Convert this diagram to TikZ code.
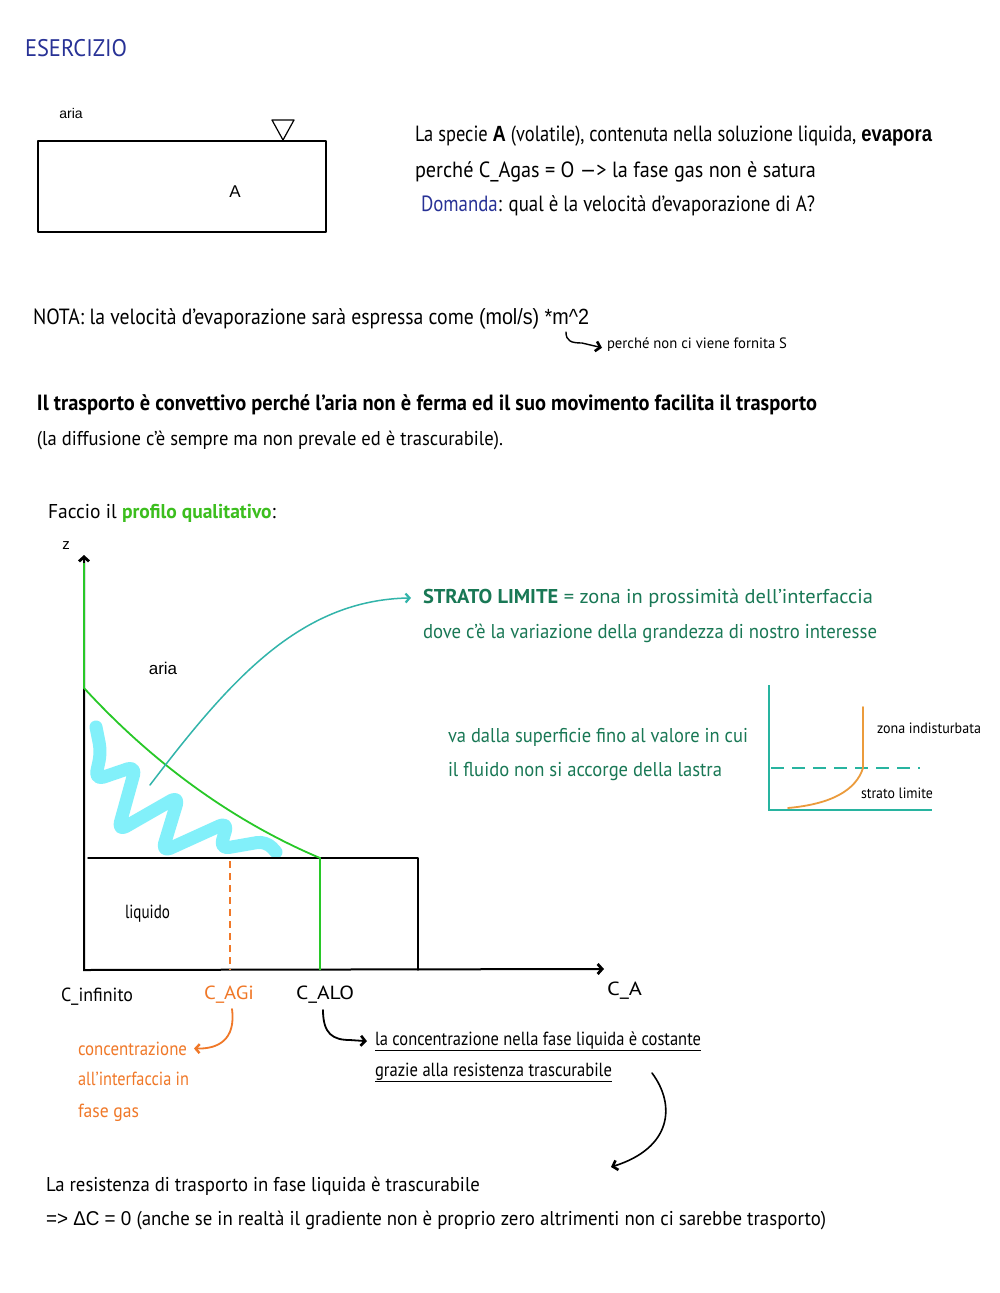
\documentclass[tikz,border=0pt]{standalone}
\usepackage{fontspec}
\usepackage{graphicx}
\setmainfont{Liberation Sans}
\newfontfamily\hand{PT Sans}
\newfontfamily\plain{Liberation Sans}
\usetikzlibrary{arrows.meta}
\definecolor{hblue}{RGB}{40,50,150}
\definecolor{sgreen}{RGB}{25,120,85}
\definecolor{pgreen}{RGB}{60,190,30}
\definecolor{cgreen}{RGB}{40,200,40}
\definecolor{tealc}{RGB}{50,180,170}
\definecolor{cyanw}{RGB}{130,240,250}
\definecolor{orangec}{RGB}{240,120,40}
\definecolor{orangep}{RGB}{235,155,60}
\definecolor{axteal}{RGB}{40,180,160}
\newcommand{\fitw}[2]{\resizebox{#1pt}{\height}{#2}}
\begin{document}
\begin{tikzpicture}[x=1pt,y=-1pt,
  txt/.style={anchor=mid west, inner sep=0pt, outer sep=0pt, yshift=-4.5pt, font=\hand\fontsize{22}{26}\selectfont},
  mtxt/.style={txt, font=\hand\fontsize{20}{24}\selectfont},
  sml/.style={txt, yshift=1.5pt, font=\hand\fontsize{15}{18}\selectfont},
  reg/.style={inner sep=0pt, outer sep=0pt, font=\plain\fontsize{16}{19}\selectfont},
  barb/.style={-{Straight Barb[length=4.5pt,width=10pt,line width=2.6pt]}},
  thinline/.style={line width=1.4pt, line cap=round, line join=round}]
\fill[white] (0,0) rectangle (1000,1293);
\useasboundingbox (0,0) rectangle (1000,1293);

% ---------- header ----------
\node[txt, text=hblue, yshift=-6pt, font=\hand\fontsize{24}{28}\selectfont] (title) at (25,43) {\fitw{102}{ESERCIZIO}};
\node[reg, font=\plain\fontsize{14}{17}\selectfont] (aria1) at (71,113) {aria};
\draw[thinline] (38,141) rectangle (326,232);
\draw[line width=1.2pt, line join=round] (272,120) -- (294,120) -- (283,140) -- cycle;
\node[reg, font=\plain\fontsize{17}{20}\selectfont] (Abox) at (235,192) {A};

\node[txt] (l1) at (415,134) {\fitw{517}{La specie {\plain\bfseries A} (volatile), contenuta nella soluzione liquida, {\plain\bfseries evapora}}};
\node[txt] (l2) at (415,170) {\fitw{401}{perché C\_Agas = O —> la fase gas non è satura}};
\node[txt] (l3) at (421,204) {\fitw{394}{{\color{hblue}Domanda}: qual è la velocità d’evaporazione di A?}};

\node[txt] (nota) at (33,317) {\fitw{556}{NOTA: la velocità d’evaporazione sarà espressa come {\plain(mol/s) *m\textasciicircum 2}}};
\node[sml] (perche) at (607,343) {\fitw{180}{perché non ci viene fornita S}};
\coordinate (h1) at (566,332);
\draw[thinline, barb] (h1) .. controls (566,341) and (571,343) .. (582,343) -- ([xshift=-5pt,yshift=-3pt]perche.west);

\node[txt, font=\hand\bfseries\fontsize{22}{26}\selectfont] (conv) at (37,403) {\fitw{780}{Il trasporto è convettivo perché l’aria non è ferma ed il suo movimento facilita il trasporto}};
\node[mtxt] (diff) at (37,438) {\fitw{466}{(la diffusione c’è sempre ma non prevale ed è trascurabile).}};
\node[mtxt] (faccio) at (48,511) {\fitw{228}{Faccio il {\bfseries\color{pgreen}profilo qualitativo}:}};

% ---------- main graph ----------
\draw[cyanw, line width=13pt, line cap=round, line join=round, rounded corners=9pt]
  (96,727) -- (101,752) -- (95,780) -- (136,766) -- (118,831) -- (179,796) -- (162,852)
  -- (228,822) -- (220,849) -- (266,841) -- (276,852);

\coordinate (O) at (84,970);
\coordinate (ytop) at (84,555);
\coordinate (xend) at (604,969);
\draw[line width=2pt, {Straight Barb[length=4.5pt,width=10pt,line width=2.8pt]}-{Straight Barb[length=4.5pt,width=10pt,line width=2.8pt]}] (ytop) -- (O) -- (xend);
\node[reg, font=\plain\fontsize{15}{18}\selectfont] (z) at (66,546) {z};

\draw[thinline] (88,858) -- (418,858) -- (418,970);
\draw[orangec, line width=1.8pt, dash pattern=on 7pt off 5pt] (230,861) -- (230,970);
\draw[cgreen, line width=1.8pt] (84,563) -- (84,688) .. controls (150,760) and (230,820) .. (320,858) -- (320,970);

\node[reg, font=\plain\fontsize{17}{20}\selectfont] (aria2) at (163,668) {aria};
\node[txt, font=\hand\fontsize{19}{22}\selectfont] (liq) at (125,911) {\fitw{45}{liquido}};

\node[txt, font=\hand\fontsize{20}{24}\selectfont] (strato) at (423,596) {\fitw{450}{{\color{sgreen}\bfseries STRATO LIMITE} {\color{sgreen}= zona in prossimità dell’interfaccia}}};
\node[txt, text=sgreen, font=\hand\fontsize{20}{24}\selectfont] (dove) at (423,631) {\fitw{454}{dove c’è la variazione della grandezza di nostro interesse}};
\coordinate (ta) at (150,785);
\draw[tealc, line width=1.5pt, line cap=round, -{Straight Barb[length=4pt,width=9pt,line width=2.2pt]}] (ta) .. controls (230,680) and (300,600) .. ([xshift=-12pt]strato.west);

\node[txt, font=\hand\fontsize{19}{22}\selectfont] (cinf) at (61,994) {\fitw{72}{C\_infinito}};
\node[txt, text=orangec, font=\hand\fontsize{19}{22}\selectfont] (cagi) at (204,992) {\fitw{50}{C\_AGi}};
\node[txt, font=\hand\fontsize{19}{22}\selectfont] (calo) at (296,992) {\fitw{58}{C\_ALO}};
\node[txt, font=\hand\fontsize{19}{22}\selectfont] (ca) at (607,988) {\fitw{35}{C\_A}};

\node[txt, text=orangec, font=\hand\fontsize{19}{22}\selectfont] (conc) at (78,1048) {\fitw{109}{concentrazione}};
\node[txt, text=orangec, font=\hand\fontsize{19}{22}\selectfont] (conc2) at (78,1078) {\fitw{111}{all’interfaccia in}};
\node[txt, text=orangec, font=\hand\fontsize{19}{22}\selectfont] (conc3) at (78,1110) {\fitw{61}{fase gas}};
\coordinate (oa) at (232,1009);
\draw[orangec, line width=1.8pt, line cap=round, -{Straight Barb[length=4pt,width=9pt,line width=2.4pt]}] (oa) .. controls (236,1040) and (218,1049) .. ([xshift=7pt]conc.east);

\node[txt, font=\hand\fontsize{19}{22}\selectfont] (cost) at (375,1038) {\fitw{326}{\underline{la concentrazione nella fase liquida è costante}}};
\node[txt, font=\hand\fontsize{19}{22}\selectfont] (graz) at (375,1069) {\fitw{237}{\underline{grazie alla resistenza trascurabile}}};
\coordinate (hb) at (323,1010);
\draw[line width=1.8pt, line cap=round, barb] (hb) .. controls (323,1034) and (333,1040) .. (350,1040) -- ([xshift=-8pt]cost.west);

\coordinate (bA) at (652,1073);
\coordinate (bB) at (611,1167);
\draw[line width=1.6pt, line cap=round, barb] (bA) .. controls (676,1105) and (672,1148) .. (bB);

\node[mtxt] (res) at (46,1184) {\fitw{434}{La resistenza di trasporto in fase liquida è trascurabile}};
\node[mtxt] (dc) at (46,1218) {\fitw{780}{{\plain => ΔC = 0} (anche se in realtà il gradiente non è proprio zero altrimenti non ci sarebbe trasporto)}};

% ---------- boundary layer sketch ----------
\node[txt, text=sgreen, font=\hand\fontsize{20}{24}\selectfont] (va1) at (448,735) {\fitw{300}{va dalla superficie fino al valore in cui}};
\node[txt, text=sgreen, font=\hand\fontsize{20}{24}\selectfont] (va2) at (448,769) {\fitw{274}{il fluido non si accorge della lastra}};
\draw[axteal, line width=1.8pt] (769,685) -- (769,810) -- (932,810);
\draw[axteal, line width=2pt, dash pattern=on 13pt off 8pt] (771,768) -- (920,768);
\draw[orangep, line width=1.8pt, line cap=round] (788,808) .. controls (832,804) and (856,790) .. (863,768) -- (863,707);
\node[sml] (zi) at (877,728) {\fitw{104}{zona indisturbata}};
\node[sml] (sl) at (861,793) {\fitw{72}{strato limite}};
\end{tikzpicture}
\end{document}
